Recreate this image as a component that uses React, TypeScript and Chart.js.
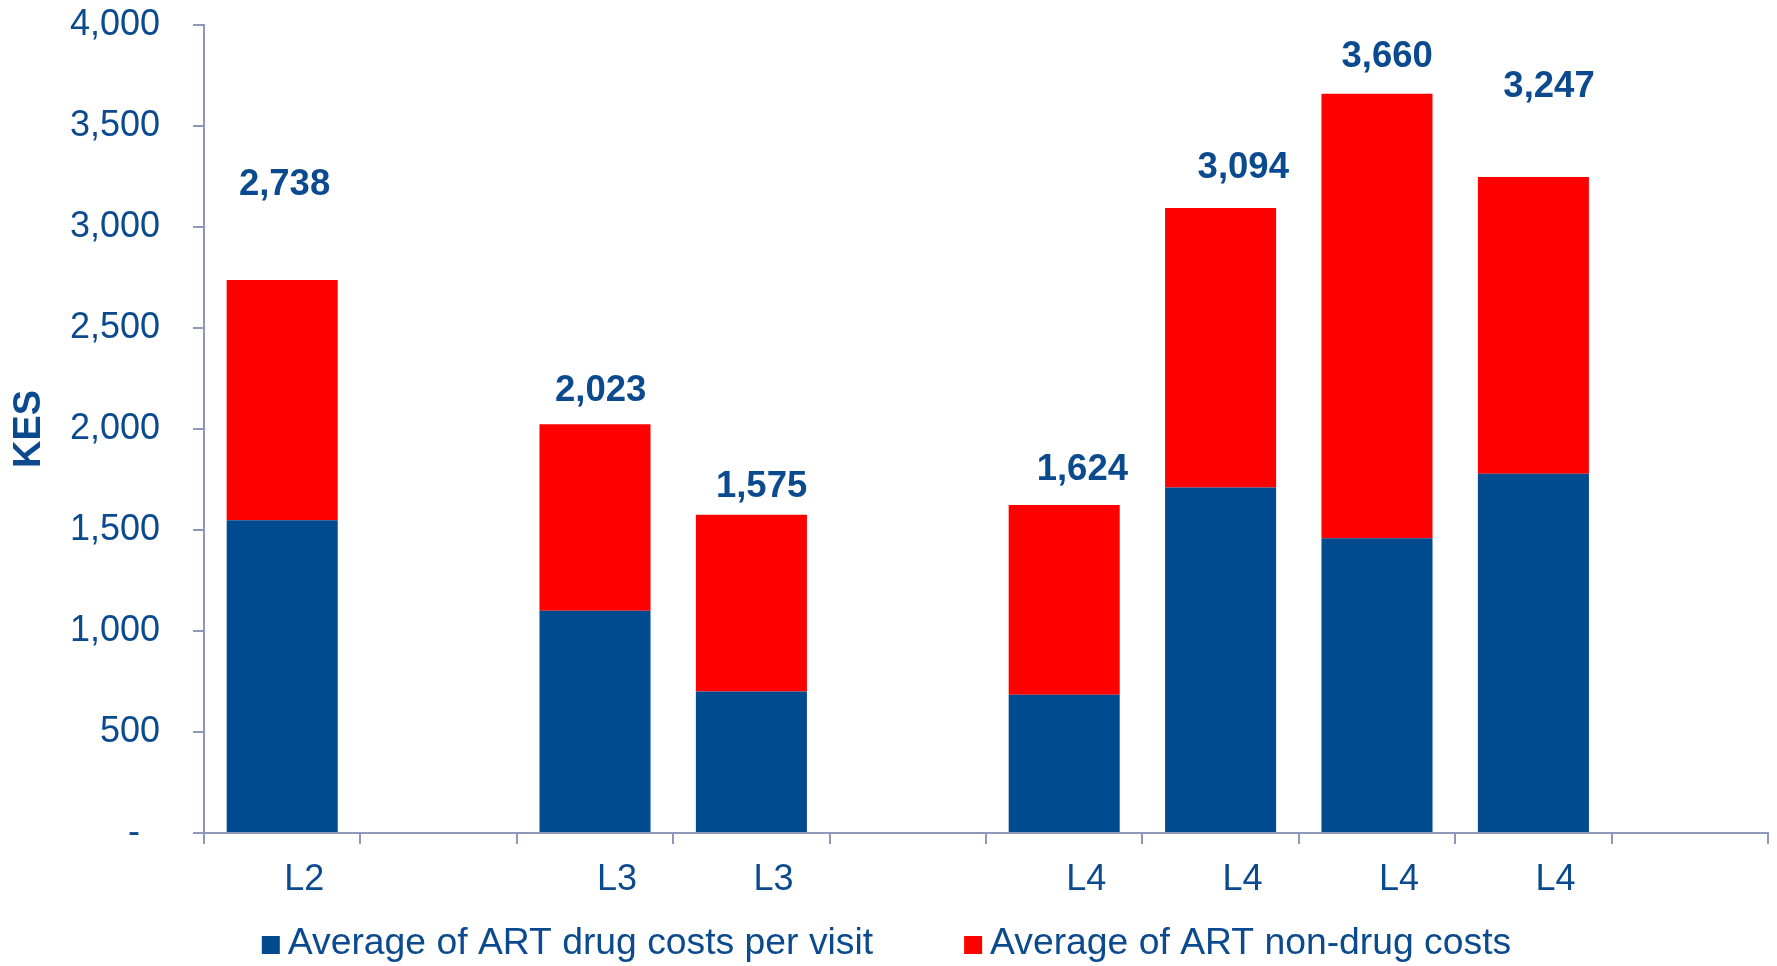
import React, { useEffect, useRef } from 'react';
import { Chart, registerables } from 'chart.js';

Chart.register(...registerables);

const categories = ['L2', '', 'L3', 'L3', '', 'L4', 'L4', 'L4', 'L4', ''];
const drugCosts = [1548, null, 1100, 701, null, 684, 1711, 1459, 1778, null];
const nonDrugCosts = [1190, null, 923, 874, null, 940, 1383, 2201, 1469, null];
const totals = [2738, null, 2023, 1575, null, 1624, 3094, 3660, 3247, null];
// where each total label sits: height in KES units, shift in category units
const labelHeights = [3210, null, 2188, 1712, null, 1795, 3293, 3843, 3692, null];
const labelShifts = [0.015, 0, 0.036, 0.065, 0, 0.116, 0.145, 0.065, 0.1, 0];
const seriesNames = ['Average of ART drug costs per visit', 'Average of ART non-drug costs'];
const seriesColors = ['#004A8F', '#FF0000'];
const yMin = 0;
const yMax = 4000;
const yStep = 500;
const yTitle = 'KES';

const TEXT = '#0B4A8E';
const AXIS = '#8E98BA';
const FAMILY = "'Liberation Sans', Arial, sans-serif";

const fmt = (v: number) => v.toLocaleString('en-US');

const totalLabelPlugin = {
  id: 'totalLabels',
  afterDatasetsDraw(chart: any) {
    const ctx = chart.ctx;
    const x = chart.scales.x;
    const y = chart.scales.y;
    ctx.save();
    ctx.font = `bold 36.5px ${FAMILY}`;
    ctx.fillStyle = TEXT;
    ctx.textAlign = 'center';
    ctx.textBaseline = 'middle';
    totals.forEach((t, i) => {
      if (t == null || labelHeights[i] == null) return;
      ctx.fillText(
        fmt(t),
        x.getPixelForValue(i + labelShifts[i]),
        y.getPixelForValue(labelHeights[i] as number)
      );
    });
    ctx.restore();
  },
};

const customLegendPlugin = {
  id: 'customLegend',
  afterDraw(chart: any) {
    const ctx = chart.ctx;
    ctx.save();
    ctx.font = `37.3px ${FAMILY}`;
    const box = 18;
    const gap = 8;
    const itemGap = 91;
    const widths = seriesNames.map((n) => ctx.measureText(n).width);
    const total = widths.reduce((a, w) => a + box + gap + w, 0) + itemGap * (seriesNames.length - 1);
    let x = (chart.width - total) / 2 - 2;
    const cy = 944;
    ctx.textBaseline = 'middle';
    ctx.textAlign = 'left';
    seriesNames.forEach((n, i) => {
      ctx.fillStyle = seriesColors[i];
      ctx.fillRect(x, cy - box / 2 + 1, box, box);
      x += box + gap;
      ctx.fillStyle = TEXT;
      ctx.fillText(n, x, cy);
      x += widths[i] + itemGap;
    });
    ctx.restore();
  },
};

export default function App() {
  const ref = useRef<HTMLCanvasElement | null>(null);

  useEffect(() => {
    document.body.style.margin = '0';
    const canvas = ref.current;
    if (!canvas) return;
    const chart = new Chart(canvas, {
      type: 'bar',
      data: {
        labels: categories,
        datasets: [
          {
            label: seriesNames[0],
            data: drugCosts as any,
            backgroundColor: seriesColors[0],
            borderWidth: 0,
            barPercentage: 0.71,
            categoryPercentage: 1.0,
          },
          {
            label: seriesNames[1],
            data: nonDrugCosts as any,
            backgroundColor: seriesColors[1],
            borderWidth: 0,
            barPercentage: 0.71,
            categoryPercentage: 1.0,
          },
        ],
      },
      options: {
        responsive: false,
        animation: false,
        devicePixelRatio: 1,
        layout: { padding: { top: 25, right: 9, bottom: 60, left: 0 } },
        plugins: {
          legend: { display: false },
          tooltip: { enabled: false },
        },
        scales: {
          x: {
            stacked: true,
            grid: {
              offset: true,
              drawOnChartArea: false,
              drawTicks: true,
              tickLength: 11,
              color: AXIS,
              lineWidth: 2,
            },
            border: { color: AXIS, width: 2 },
            ticks: {
              color: TEXT,
              font: { family: FAMILY, size: 36 },
              labelOffset: 22,
              padding: 14,
              maxRotation: 0,
              autoSkip: false,
            },
            afterFit: (s: any) => {
              s.height = 73;
              s.paddingLeft = 0;
              s.paddingRight = 0;
            },
          },
          y: {
            stacked: true,
            min: yMin,
            max: yMax,
            ticks: {
              stepSize: yStep,
              color: TEXT,
              font: { family: FAMILY, size: 36 },
              padding: 33,
              callback: (v: any) => (Number(v) === 0 ? '-  ' : fmt(Number(v))),
            },
            grid: {
              drawOnChartArea: false,
              drawTicks: true,
              tickLength: 11,
              color: AXIS,
              lineWidth: 2,
            },
            border: { color: AXIS, width: 2 },
            title: {
              display: true,
              text: yTitle,
              color: TEXT,
              font: { family: FAMILY, size: 38, weight: 'bold' },
              padding: { top: 7, bottom: 0 },
            },
            afterFit: (s: any) => {
              s.width = 204;
              s.paddingTop = 0;
              s.paddingBottom = 0;
            },
          },
        },
      } as any,
      plugins: [totalLabelPlugin, customLegendPlugin],
    });
    return () => chart.destroy();
  }, []);

  return (
    <div style={{ position: 'absolute', left: 0, top: 0, width: 1777, height: 966, background: '#fff' }}>
      <canvas ref={ref} width={1777} height={966} style={{ display: 'block' }} />
    </div>
  );
}
